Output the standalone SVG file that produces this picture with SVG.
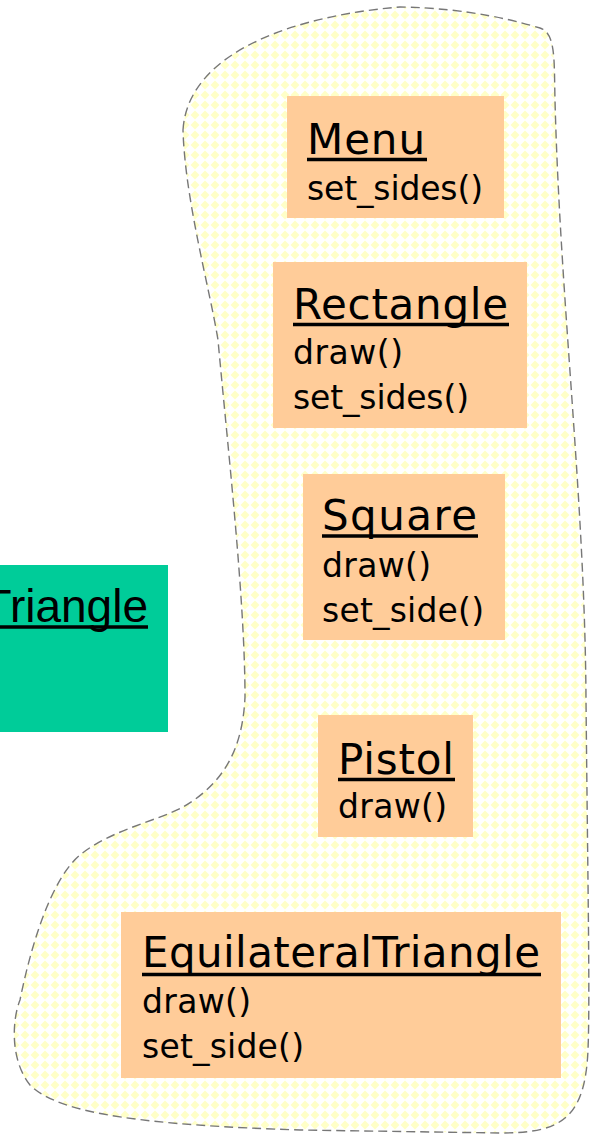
<svg xmlns="http://www.w3.org/2000/svg" width="593" height="1135" viewBox="0 0 593 1135">
<style>
.box{fill:#ffcc99}
.title{font-family:"DejaVu Sans",sans-serif;font-size:42px;fill:#000}
.meth{font-family:"DejaVu Sans",sans-serif;font-size:33px;fill:#000}
.ul{stroke:#000;stroke-width:3.5}
</style>
<defs>
<pattern id="dia" width="10" height="10" patternUnits="userSpaceOnUse">
<rect width="10" height="10" fill="#ffffff"/>
<polygon points="5,0.5 9.5,5 5,9.5 0.5,5" fill="#ffffc8"/>
</pattern>
</defs>
<g id="region">
<path d="M183,130 C188,50 300,15 400,7 C470,8 520,22 540,28 C556,33 554,60 555,100 C560,300 585,500 586,700 C588,900 590,1000 588,1050 C585,1120 560,1133 500,1133 L300,1130 C150,1125 60,1115 30,1085 C10,1060 12,1020 20,1000 C30,950 50,880 80,855 C110,830 160,820 183,807 C230,780 243,740 245,697 C245,600 228,450 218,340 C210,290 185,200 183,130 Z" fill="url(#dia)" stroke="#777777" stroke-width="1.4" stroke-dasharray="9,5"/>
</g>
<g id="triangle">
<rect x="0" y="565" width="168" height="167" fill="#00cc99"/>
<text x="148" y="622" text-anchor="end" font-family="Liberation Sans, Arial, sans-serif" font-size="46">Triangle</text>
<line x1="0" y1="627" x2="148" y2="627" class="ul"/>
</g>
<g id="menu">
<rect class="box" x="287" y="96" width="217" height="122"/>
<text class="title" x="307" y="154" textLength="118">Menu</text>
<line class="ul" x1="307" y1="159.5" x2="427" y2="159.5"/>
<text class="meth" x="307" y="200" textLength="176">set_sides()</text>
</g>
<g id="rectangle">
<rect class="box" x="273" y="262" width="254" height="166"/>
<text class="title" x="293" y="319" textLength="215">Rectangle</text>
<line class="ul" x1="293" y1="324.5" x2="509" y2="324.5"/>
<text class="meth" x="293" y="364" textLength="110">draw()</text>
<text class="meth" x="293" y="409" textLength="176">set_sides()</text>
</g>
<g id="square">
<rect class="box" x="303" y="474" width="202" height="166"/>
<text class="title" x="322" y="530" textLength="155">Square</text>
<line class="ul" x1="322" y1="536" x2="478" y2="536"/>
<text class="meth" x="322" y="577" textLength="109">draw()</text>
<text class="meth" x="322" y="622" textLength="162">set_side()</text>
</g>
<g id="pistol">
<rect class="box" x="318" y="715" width="155" height="122"/>
<text class="title" x="338" y="774" textLength="116">Pistol</text>
<line class="ul" x1="338" y1="779.5" x2="455" y2="779.5"/>
<text class="meth" x="338" y="818" textLength="109">draw()</text>
</g>
<g id="equilateral">
<rect class="box" x="121" y="912" width="440" height="166"/>
<text class="title" x="142" y="967" textLength="398">EquilateralTriangle</text>
<line class="ul" x1="142" y1="974.5" x2="541" y2="974.5"/>
<text class="meth" x="142" y="1013" textLength="109">draw()</text>
<text class="meth" x="142" y="1058" textLength="162">set_side()</text>
</g>
<g id="connectors"></g>
</svg>
